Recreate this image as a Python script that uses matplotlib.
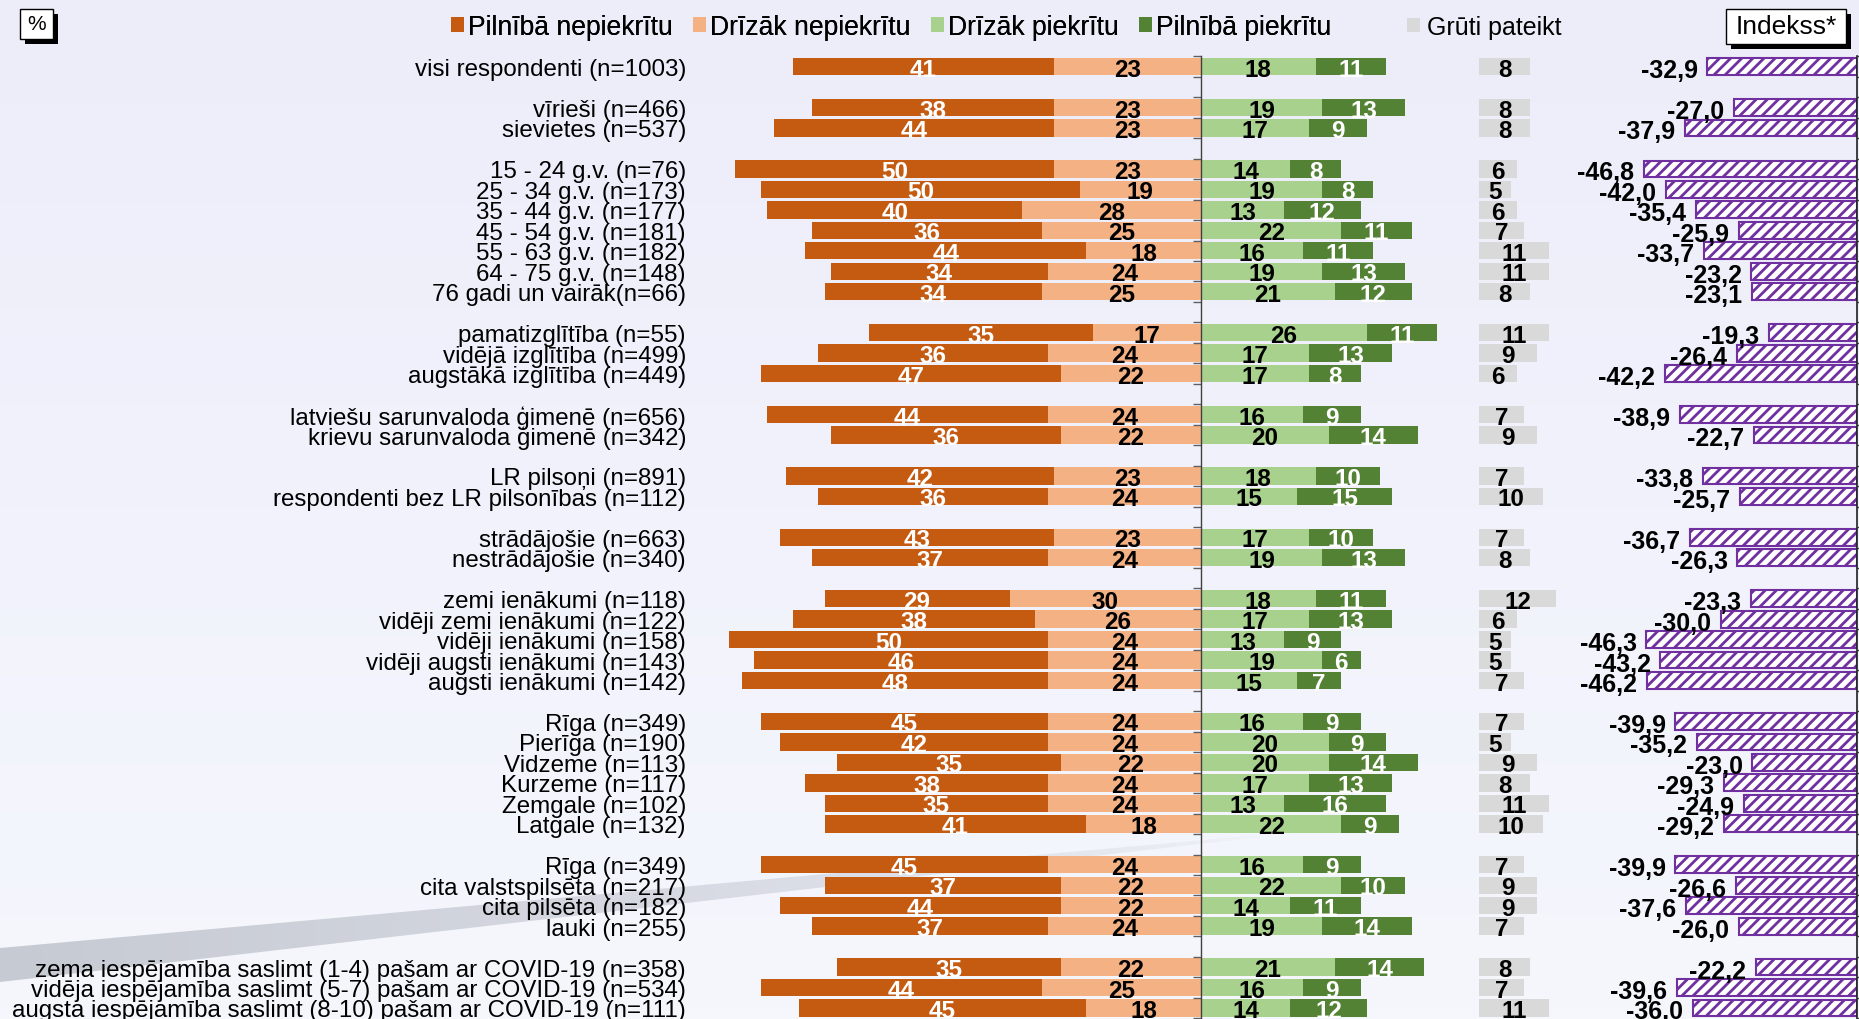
import numpy as np
import matplotlib
matplotlib.use("Agg")
import matplotlib.pyplot as plt
from matplotlib.patches import Rectangle, Polygon
from matplotlib.colors import LinearSegmentedColormap
from matplotlib.ticker import FixedLocator

# ---------------- data ----------------
categories = [
    "visi respondenti (n=1003)",
    "vīrieši (n=466)", "sievietes (n=537)",
    "15 - 24 g.v. (n=76)", "25 - 34 g.v. (n=173)", "35 - 44 g.v. (n=177)",
    "45 - 54 g.v. (n=181)", "55 - 63 g.v. (n=182)", "64 - 75 g.v. (n=148)",
    "76 gadi un vairāk(n=66)",
    "pamatizglītība (n=55)", "vidējā izglītība (n=499)", "augstākā izglītība (n=449)",
    "latviešu sarunvaloda ģimenē (n=656)", "krievu sarunvaloda ģimenē (n=342)",
    "LR pilsoņi (n=891)", "respondenti bez LR pilsonības (n=112)",
    "strādājošie (n=663)", "nestrādājošie (n=340)",
    "zemi ienākumi (n=118)", "vidēji zemi ienākumi (n=122)", "vidēji ienākumi (n=158)",
    "vidēji augsti ienākumi (n=143)", "augsti ienākumi (n=142)",
    "Rīga (n=349)", "Pierīga (n=190)", "Vidzeme (n=113)", "Kurzeme (n=117)",
    "Zemgale (n=102)", "Latgale (n=132)",
    "Rīga (n=349)", "cita valstspilsēta (n=217)", "cita pilsēta (n=182)", "lauki (n=255)",
    "zema iespējamība saslimt (1-4) pašam ar COVID-19 (n=358)",
    "vidēja iespējamība saslimt (5-7) pašam ar COVID-19 (n=534)",
    "augsta iespējamība saslimt (8-10) pašam ar COVID-19 (n=111)",
]
group_sizes = [1, 2, 7, 3, 2, 2, 2, 5, 6, 4, 3]

pilniba_nepiekritu = [41, 38, 44, 50, 50, 40, 36, 44, 34, 34, 35, 36, 47, 44, 36, 42, 36, 43, 37,
                      29, 38, 50, 46, 48, 45, 42, 35, 38, 35, 41, 45, 37, 44, 37, 35, 44, 45]
drizak_nepiekritu = [23, 23, 23, 23, 19, 28, 25, 18, 24, 25, 17, 24, 22, 24, 22, 23, 24, 23, 24,
                     30, 26, 24, 24, 24, 24, 24, 22, 24, 24, 18, 24, 22, 22, 24, 22, 25, 18]
drizak_piekritu = [18, 19, 17, 14, 19, 13, 22, 16, 19, 21, 26, 17, 17, 16, 20, 18, 15, 17, 19,
                   18, 17, 13, 19, 15, 16, 20, 20, 17, 13, 22, 16, 22, 14, 19, 21, 16, 14]
pilniba_piekritu = [11, 13, 9, 8, 8, 12, 11, 11, 13, 12, 11, 13, 8, 9, 14, 10, 15, 10, 13,
                    11, 13, 9, 6, 7, 9, 9, 14, 13, 16, 9, 9, 10, 11, 14, 14, 9, 12]
gruti_pateikt = [8, 8, 8, 6, 5, 6, 7, 11, 11, 8, 11, 9, 6, 7, 9, 7, 10, 7, 8,
                 12, 6, 5, 5, 7, 7, 5, 9, 8, 11, 10, 7, 9, 9, 7, 8, 7, 11]
indekss = [-32.9, -27.0, -37.9, -46.8, -42.0, -35.4, -25.9, -33.7, -23.2, -23.1, -19.3, -26.4,
           -42.2, -38.9, -22.7, -33.8, -25.7, -36.7, -26.3, -23.3, -30.0, -46.3, -43.2, -46.2,
           -39.9, -35.2, -23.0, -29.3, -24.9, -29.2, -39.9, -26.6, -37.6, -26.0, -22.2, -39.6, -36.0]

legend_labels = ["Pilnībā nepiekrītu", "Drīzāk nepiekrītu", "Drīzāk piekrītu",
                 "Pilnībā piekrītu", "Grūti pateikt"]

# ---------------- style ----------------
C_DN = "#C55A11"
C_LN = "#F4B183"
C_LP = "#A9D18E"
C_DP = "#548235"
C_GR = "#D9D9D9"
C_IX = "#7030A0"

plt.rcParams["font.family"] = ["Liberation Sans", "DejaVu Sans"]
plt.rcParams["hatch.linewidth"] = 2.0

W, H = 1859, 1020
fig = plt.figure(figsize=(W / 100, H / 100), dpi=100)

def fx(px):
    return px / W

def fy(py):
    return 1 - py / H

# background gradient + swoosh
bg = fig.add_axes([0, 0, 1, 1], zorder=-10)
grad = np.linspace(0, 1, 256).reshape(-1, 1)
cmap = LinearSegmentedColormap.from_list("bg", ["#EDEDFA", "#F5F7FD"])
bg.imshow(grad, aspect="auto", cmap=cmap, extent=[0, 1, 0, 1], origin="upper")
bg.set_xlim(0, 1)
bg.set_ylim(0, 1)
bg.axis("off")
nseg = 60
x_end = 1260.0
for i in range(nseg):
    x0 = x_end * i / nseg
    x1 = x_end * (i + 1) / nseg
    t0 = lambda x: 949 - (949 - 836) * x / x_end
    b0 = lambda x: 983 - (983 - 838) * x / x_end
    a = (1 - (i + 0.5) / nseg) ** 0.6
    poly = Polygon([(fx(x0), fy(t0(x0))), (fx(x1), fy(t0(x1))),
                    (fx(x1), fy(b0(x1))), (fx(x0), fy(b0(x0)))],
                   closed=True, facecolor="#C6CAD3", edgecolor="none", alpha=a)
    bg.add_patch(poly)

# slot positions (one blank slot between groups)
pos = []
s = 0
for g in group_sizes:
    for k in range(g):
        pos.append(s)
        s += 1
    s += 1
pos = np.array(pos, dtype=float)
n_slots = s - 1

pitch = 20.465
y0px = 67.6
ylim = ((H - y0px) / pitch, -y0px / pitch)

# ---------------- main axes ----------------
zero_px = 1201.0
ppu = 6.38
ax_l, ax_r = 690.0, 1600.0
ax = fig.add_axes([fx(ax_l), 0, (ax_r - ax_l) / W, 1])
ax.set_facecolor("none")
ax.set_xlim((ax_l - zero_px) / ppu, (ax_r - zero_px) / ppu)
ax.set_ylim(*ylim)

dn = np.array(pilniba_nepiekritu)
ln = np.array(drizak_nepiekritu)
lp = np.array(drizak_piekritu)
dp = np.array(pilniba_piekritu)
gr = np.array(gruti_pateikt)
bh = 0.85

b_dn = ax.barh(pos, dn, left=-(dn + ln), height=bh, color=C_DN, label=legend_labels[0])
b_ln = ax.barh(pos, ln, left=-ln, height=bh, color=C_LN, label=legend_labels[1])
b_lp = ax.barh(pos, lp, left=0, height=bh, color=C_LP, label=legend_labels[2])
b_dp = ax.barh(pos, dp, left=lp, height=bh, color=C_DP, label=legend_labels[3])
gray_offset = 43.6
b_gr = ax.barh(pos, gr, left=gray_offset, height=bh, color=C_GR, label=legend_labels[4])

num_fs = 17.5
for cont, vals, col in [(b_dn, dn, "white"), (b_ln, ln, "black"), (b_lp, lp, "black"),
                        (b_dp, dp, "white"), (b_gr, gr, "black")]:
    anns = ax.bar_label(cont, labels=[str(v) for v in vals], label_type="center",
                        color=col, fontsize=num_fs, fontweight="bold")
    for a in anns:
        a.xyann = (0, -1.8)

for sp in ["top", "right", "bottom"]:
    ax.spines[sp].set_visible(False)
ax.spines["left"].set_position(("data", 0))
ax.spines["left"].set_bounds(-0.5, n_slots + 0.6)
ax.spines["left"].set_color("#404040")
ax.spines["left"].set_linewidth(1.0)
ax.set_xticks([])
ax.set_yticks(pos)
ax.set_yticklabels(categories, fontsize=17.4)
ax.yaxis.set_minor_locator(FixedLocator(np.arange(-0.5, n_slots + 1, 1.0)))
ax.tick_params(axis="y", which="major", length=0, pad=(zero_px - 686) * 0.72)
ax.tick_params(axis="y", which="minor", length=6, width=1.0, color="#606060", direction="out")

# ---------------- index axes ----------------
ippu = 4.55
ix_l, ix_r = 1600.0, 1857.0
ax2 = fig.add_axes([fx(ix_l), 0, (ix_r - ix_l) / W, 1])
ax2.set_facecolor("none")
ax2.set_xlim(-(ix_r - ix_l) / ippu, 0)
ax2.set_ylim(*ylim)
b_ix = ax2.barh(pos, indekss, height=0.82, facecolor="white", edgecolor=C_IX,
                hatch="///", linewidth=1.5)
anns = ax2.bar_label(b_ix, labels=[f"{v:.1f}".replace(".", ",") for v in indekss],
                     padding=7, fontsize=18, fontweight="bold", color="black")
for a in anns:
    a.xyann = (-7, -2.5)
for sp in ["top", "left", "bottom"]:
    ax2.spines[sp].set_visible(False)
ax2.spines["right"].set_bounds(-0.5, n_slots + 0.6)
ax2.spines["right"].set_color("#202020")
ax2.spines["right"].set_linewidth(1.2)
ax2.set_xticks([])
ax2.set_yticks([])
ax2.yaxis.set_minor_locator(FixedLocator(np.arange(-0.5, n_slots + 1, 1.0)))
ax2.yaxis.set_ticks_position("right")
ax2.tick_params(axis="y", which="minor", length=3, width=1.0, color="#404040",
                direction="out", right=True, left=False)

# ---------------- legend ----------------
leg1 = fig.legend(handles=[b_dn, b_ln, b_lp, b_dp], labels=legend_labels[:4],
                  loc="center left", bbox_to_anchor=(fx(451), fy(28)), ncol=4,
                  frameon=False, fontsize=19.1, handlelength=0.5, handleheight=0.5,
                  handletextpad=0.15, columnspacing=0.75, borderpad=0, borderaxespad=0)
fig.add_artist(leg1)
leg2 = fig.legend(handles=[b_gr], labels=legend_labels[4:],
                  loc="center left", bbox_to_anchor=(fx(1407), fy(28)), ncol=1,
                  frameon=False, fontsize=18, handlelength=0.5, handleheight=0.5,
                  handletextpad=0.3, borderpad=0, borderaxespad=0)

# ---------------- boxes ----------------
def shadow_box(x0, y0, x1, y1, text, fs):
    off = 5
    fig.add_artist(Rectangle((fx(x0 + off), fy(y1 + off)), (x1 - x0) / W, (y1 - y0) / H,
                             transform=fig.transFigure, facecolor="black", edgecolor="none"))
    fig.add_artist(Rectangle((fx(x0), fy(y1)), (x1 - x0) / W, (y1 - y0) / H,
                             transform=fig.transFigure, facecolor="white", edgecolor="black",
                             linewidth=1.0))
    fig.text(fx((x0 + x1) / 2), fy((y0 + y1) / 2), text, ha="center", va="center",
             fontsize=fs, color="black")

shadow_box(20, 10, 53, 40, "%", 15)
shadow_box(1726, 10, 1846, 45, "Indekss*", 19)

fig.savefig("out.png", dpi=100)
